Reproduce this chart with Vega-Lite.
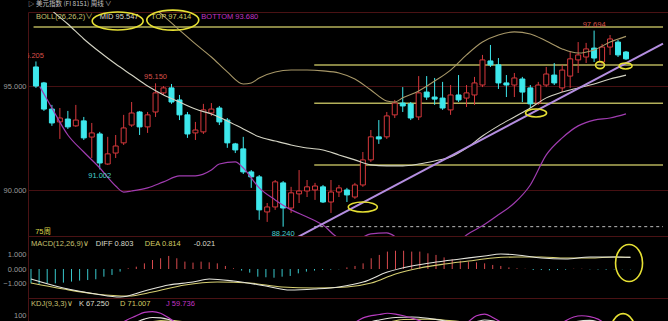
{
  "$schema": "https://vega.github.io/schema/vega-lite/v6.json",
  "background": "#000000",
  "padding": 0,
  "spacing": 0,
  "bounds": "flush",
  "title": {
    "text": "▷ 美元指数 (FI 8151)   周线 ∨",
    "anchor": "start",
    "frame": "group",
    "font": "Noto Sans CJK SC",
    "fontSize": 6.5,
    "fontWeight": "normal",
    "color": "#c4c4c4",
    "offset": 2,
    "dy": 3
  },
  "datasets": {
    "candles": [
      {"w":1,"o":95.94,"h":96.205,"l":94.93,"c":95.02},
      {"w":2,"o":95.17,"h":95.22,"l":93.82,"c":93.91},
      {"w":3,"o":93.91,"h":94.11,"l":93.1,"c":93.24},
      {"w":4,"o":93.29,"h":93.96,"l":92.47,"c":93.48},
      {"w":5,"o":93.43,"h":93.82,"l":92.95,"c":93.05},
      {"w":6,"o":93.1,"h":94.11,"l":93.05,"c":93.38},
      {"w":7,"o":93.34,"h":93.53,"l":92.42,"c":92.52},
      {"w":8,"o":92.56,"h":93.24,"l":91.55,"c":92.76},
      {"w":9,"o":92.71,"h":92.81,"l":91.002,"c":91.31},
      {"w":10,"o":91.26,"h":92.57,"l":91.22,"c":91.75},
      {"w":11,"o":91.79,"h":92.66,"l":91.55,"c":92.13},
      {"w":12,"o":92.28,"h":93.63,"l":92.18,"c":93.0},
      {"w":13,"o":93.14,"h":94.25,"l":93.05,"c":93.72},
      {"w":14,"o":93.77,"h":93.82,"l":92.66,"c":93.05},
      {"w":15,"o":93.05,"h":93.77,"l":92.76,"c":93.63},
      {"w":16,"o":93.77,"h":95.15,"l":93.53,"c":94.69},
      {"w":17,"o":94.69,"h":95.02,"l":94.59,"c":94.93},
      {"w":18,"o":94.93,"h":95.12,"l":94.16,"c":94.25},
      {"w":19,"o":94.35,"h":94.59,"l":93.38,"c":93.63},
      {"w":20,"o":93.63,"h":93.77,"l":92.52,"c":92.71},
      {"w":21,"o":92.76,"h":93.29,"l":92.42,"c":92.9},
      {"w":22,"o":92.81,"h":94.16,"l":92.71,"c":93.87},
      {"w":23,"o":93.72,"h":94.2,"l":93.58,"c":93.91},
      {"w":24,"o":93.96,"h":94.06,"l":93.14,"c":93.29},
      {"w":25,"o":93.38,"h":93.48,"l":92.04,"c":92.28},
      {"w":26,"o":92.23,"h":92.28,"l":91.79,"c":91.94},
      {"w":27,"o":91.99,"h":92.57,"l":90.78,"c":90.88},
      {"w":28,"o":90.88,"h":90.97,"l":90.11,"c":90.64},
      {"w":29,"o":90.64,"h":90.73,"l":88.57,"c":89.05},
      {"w":30,"o":88.95,"h":89.38,"l":88.47,"c":89.19},
      {"w":31,"o":89.19,"h":90.49,"l":89.05,"c":90.4},
      {"w":32,"o":90.35,"h":90.44,"l":88.24,"c":89.14},
      {"w":33,"o":89.14,"h":90.16,"l":88.9,"c":89.87},
      {"w":34,"o":89.82,"h":90.97,"l":89.38,"c":89.96},
      {"w":35,"o":89.96,"h":90.49,"l":89.67,"c":90.16},
      {"w":36,"o":90.01,"h":90.35,"l":89.53,"c":90.2},
      {"w":37,"o":90.16,"h":90.25,"l":89.38,"c":89.43},
      {"w":38,"o":89.43,"h":90.49,"l":88.9,"c":89.91},
      {"w":39,"o":89.91,"h":90.25,"l":89.67,"c":90.11},
      {"w":40,"o":90.01,"h":90.11,"l":89.43,"c":89.77},
      {"w":41,"o":89.67,"h":90.35,"l":89.58,"c":90.25},
      {"w":42,"o":90.25,"h":91.84,"l":90.16,"c":91.46},
      {"w":43,"o":91.46,"h":92.9,"l":91.36,"c":92.57},
      {"w":44,"o":92.57,"h":93.38,"l":92.23,"c":92.47},
      {"w":45,"o":92.57,"h":93.77,"l":92.47,"c":93.58},
      {"w":46,"o":93.63,"h":94.35,"l":93.48,"c":94.2},
      {"w":47,"o":94.2,"h":94.97,"l":93.77,"c":94.06},
      {"w":48,"o":94.16,"h":94.25,"l":93.38,"c":93.48},
      {"w":49,"o":93.53,"h":95.5,"l":93.38,"c":94.69},
      {"w":50,"o":94.73,"h":95.5,"l":94.35,"c":94.49},
      {"w":51,"o":94.49,"h":95.41,"l":94.11,"c":94.39},
      {"w":52,"o":94.44,"h":95.22,"l":93.87,"c":93.96},
      {"w":53,"o":93.87,"h":95.07,"l":93.63,"c":94.59},
      {"w":54,"o":94.59,"h":95.55,"l":94.25,"c":94.35},
      {"w":55,"o":94.44,"h":95.07,"l":94.01,"c":94.69},
      {"w":56,"o":94.59,"h":95.46,"l":94.11,"c":95.17},
      {"w":57,"o":95.07,"h":96.52,"l":94.97,"c":96.28},
      {"w":58,"o":96.23,"h":97.0,"l":95.94,"c":96.04},
      {"w":59,"o":96.04,"h":96.37,"l":94.88,"c":95.17},
      {"w":60,"o":95.17,"h":95.55,"l":94.49,"c":95.07},
      {"w":61,"o":95.07,"h":95.65,"l":94.49,"c":95.41},
      {"w":62,"o":95.36,"h":95.46,"l":94.25,"c":94.73},
      {"w":63,"o":94.93,"h":95.07,"l":93.96,"c":94.16},
      {"w":64,"o":94.2,"h":95.22,"l":94.11,"c":95.07},
      {"w":65,"o":95.07,"h":95.94,"l":94.97,"c":95.6},
      {"w":66,"o":95.55,"h":96.13,"l":95.07,"c":95.17},
      {"w":67,"o":94.93,"h":96.04,"l":94.73,"c":95.79},
      {"w":68,"o":95.5,"h":96.66,"l":94.93,"c":96.33},
      {"w":69,"o":96.28,"h":97.14,"l":95.65,"c":96.52},
      {"w":70,"o":96.42,"h":97.1,"l":96.13,"c":96.81},
      {"w":71,"o":96.85,"h":97.694,"l":96.18,"c":96.37},
      {"w":72,"o":96.18,"h":97.05,"l":96.08,"c":96.9},
      {"w":73,"o":96.9,"h":97.48,"l":96.52,"c":97.29},
      {"w":74,"o":97.14,"h":97.24,"l":96.42,"c":96.52},
      {"w":75,"o":96.66,"h":96.71,"l":96.28,"c":96.33}
    ],
    "mid": [
      {"w":1,"v":99.4},{"w":3,"v":98.66},{"w":5,"v":98.01},{"w":7,"v":97.29},{"w":9,"v":96.66},
      {"w":11,"v":96.08},{"w":13,"v":95.55},{"w":15,"v":95.02},{"w":17,"v":94.59},{"w":19,"v":94.25},
      {"w":21,"v":93.91},{"w":23,"v":93.67},{"w":25,"v":93.34},{"w":27,"v":92.95},{"w":29,"v":92.57},
      {"w":31,"v":92.37},{"w":33,"v":92.18},{"w":35,"v":92.03},{"w":37,"v":91.94},{"w":39,"v":91.7},
      {"w":41,"v":91.46},{"w":43,"v":91.22},{"w":45,"v":91.17},{"w":47,"v":91.17},{"w":49,"v":91.26},
      {"w":51,"v":91.41},{"w":53,"v":91.6},{"w":55,"v":92.03},{"w":57,"v":92.61},{"w":59,"v":93.1},
      {"w":61,"v":93.53},{"w":63,"v":93.96},{"w":65,"v":94.45},{"w":67,"v":94.73},{"w":69,"v":94.93},
      {"w":71,"v":95.12},{"w":73,"v":95.36},{"w":75,"v":95.547}
    ],
    "upper": [
      {"w":13,"v":99.65},{"w":15,"v":99.07},{"w":17,"v":98.4},{"w":19,"v":97.72},{"w":21,"v":97.05},
      {"w":23,"v":96.42},{"w":25,"v":95.7},{"w":27,"v":95.12},{"w":28,"v":95.17},{"w":29,"v":95.41},
      {"w":31,"v":95.7},{"w":33,"v":95.79},{"w":35,"v":95.79},{"w":37,"v":95.75},{"w":39,"v":95.65},
      {"w":41,"v":95.36},{"w":43,"v":94.83},{"w":45,"v":94.3},{"w":46,"v":94.25},{"w":47,"v":94.45},
      {"w":49,"v":94.78},{"w":51,"v":95.26},{"w":53,"v":95.79},{"w":55,"v":96.52},{"w":57,"v":97.14},
      {"w":59,"v":97.48},{"w":61,"v":97.63},{"w":63,"v":97.53},{"w":65,"v":97.19},{"w":67,"v":96.81},
      {"w":69,"v":96.61},{"w":71,"v":96.76},{"w":73,"v":97.14},{"w":75,"v":97.414}
    ],
    "lower": [
      {"w":1.5,"v":94.98},{"w":3,"v":93.96},{"w":5,"v":92.66},{"w":7,"v":91.84},{"w":9,"v":91.07},
      {"w":11,"v":90.2},{"w":12,"v":89.91},{"w":13,"v":89.96},{"w":15,"v":90.11},{"w":17,"v":90.4},
      {"w":19,"v":90.69},{"w":21,"v":90.69},{"w":23,"v":90.97},{"w":24,"v":91.26},{"w":26,"v":91.36},
      {"w":27,"v":91.07},{"w":29,"v":90.11},{"w":31,"v":89.53},{"w":33,"v":89.05},{"w":35,"v":88.71},
      {"w":37,"v":88.32},{"w":39,"v":87.7},{"w":41,"v":87.6},{"w":43,"v":87.89},{"w":45,"v":87.94},
      {"w":47,"v":87.5},{"w":50,"v":86.88},{"w":53,"v":87.12},{"w":55,"v":87.84},{"w":57,"v":88.28},
      {"w":59,"v":88.81},{"w":61,"v":89.38},{"w":63,"v":90.25},{"w":65,"v":91.7},{"w":67,"v":92.52},
      {"w":69,"v":93.1},{"w":71,"v":93.38},{"w":73,"v":93.48},{"w":75,"v":93.68}
    ],
    "trend": [{"w":33,"v":87.57},{"w":79.64,"v":97.07}],
    "fib": [
      {"s":0.7,"lv":97.868,"r":"0.618"},
      {"s":35.9,"lv":96.03,"r":"0.500"},
      {"s":35.9,"lv":94.192,"r":"0.382"},
      {"s":35.9,"lv":91.216,"r":"0.191"}
    ],
    "hdr": [
      {"w":1.0,"v":98.37,"t":"BOLL(26,26,2)∨","k":"a"},
      {"w":9.0,"v":98.37,"t":"MID 95.547","k":"b"},
      {"w":15.44,"v":98.37,"t":"TOP 97.414","k":"c"},
      {"w":21.74,"v":98.37,"t":"BOTTOM 93.680","k":"d"},
      {"w":0.9,"v":88.0,"t":"75周","k":"e"}
    ],
    "rings": [
      {"w":11.25,"v":98.156,"n":"a"},
      {"w":18.16,"v":98.2,"n":"b"},
      {"w":41.99,"v":89.19,"n":"c"},
      {"w":63.72,"v":93.72,"n":"d"},
      {"w":71.74,"v":96.03,"n":"e"},
      {"w":74.95,"v":95.99,"n":"f"}
    ],
    "hist": [
      {"w":1,"v":-0.99},{"w":2,"v":-1.03},{"w":3,"v":-0.99},{"w":4,"v":-0.99},{"w":5,"v":-0.94},
      {"w":6,"v":-0.87},{"w":7,"v":-0.8},{"w":8,"v":-0.76},{"w":9,"v":-0.71},{"w":10,"v":-0.53},
      {"w":11,"v":-0.41},{"w":12,"v":-0.18},{"w":13,"v":0.05},{"w":14,"v":0.16},{"w":15,"v":0.39},
      {"w":16,"v":0.62},{"w":17,"v":0.74},{"w":18,"v":0.9},{"w":19,"v":0.74},{"w":20,"v":0.51},
      {"w":21,"v":0.44},{"w":22,"v":0.51},{"w":23,"v":0.46},{"w":24,"v":0.39},{"w":25,"v":0.21},
      {"w":26,"v":0.05},{"w":27,"v":-0.11},{"w":28,"v":-0.25},{"w":29,"v":-0.53},{"w":30,"v":-0.57},
      {"w":31,"v":-0.6},{"w":32,"v":-0.53},{"w":33,"v":-0.48},{"w":34,"v":-0.3},{"w":35,"v":-0.18},
      {"w":36,"v":-0.11},{"w":37,"v":-0.07},{"w":38,"v":-0.05},{"w":39,"v":-0.02},{"w":40,"v":0.11},
      {"w":41,"v":0.21},{"w":42,"v":0.39},{"w":43,"v":0.74},{"w":44,"v":0.97},{"w":45,"v":1.2},
      {"w":46,"v":1.26},{"w":47,"v":1.26},{"w":48,"v":1.2},{"w":49,"v":1.2},{"w":50,"v":1.08},
      {"w":51,"v":0.97},{"w":52,"v":0.8},{"w":53,"v":0.67},{"w":54,"v":0.57},{"w":55,"v":0.51},
      {"w":56,"v":0.46},{"w":57,"v":0.39},{"w":58,"v":0.28},{"w":59,"v":0.21},{"w":60,"v":0.11},
      {"w":61,"v":0.05},{"w":62,"v":0.02},{"w":63,"v":-0.07},{"w":64,"v":-0.07},{"w":65,"v":-0.09},
      {"w":66,"v":-0.07},{"w":67,"v":-0.05},{"w":68,"v":0.02},{"w":69,"v":0.02},{"w":70,"v":-0.03},
      {"w":71,"v":-0.04},{"w":72,"v":-0.05},{"w":73,"v":-0.03},{"w":74,"v":-0.02},{"w":75,"v":-0.021}
    ],
    "diff": [
      {"w":1,"v":-0.69},{"w":5,"v":-1.31},{"w":9,"v":-1.72},{"w":12,"v":-1.93},{"w":15,"v":-1.52},
      {"w":18,"v":-1.1},{"w":21,"v":-0.9},{"w":23,"v":-0.69},{"w":26,"v":-0.83},{"w":30,"v":-1.17},
      {"w":33,"v":-1.45},{"w":36,"v":-1.38},{"w":39,"v":-1.24},{"w":42,"v":-0.9},{"w":45,"v":-0.21},
      {"w":48,"v":0.21},{"w":51,"v":0.48},{"w":54,"v":0.69},{"w":57,"v":0.9},{"w":59,"v":1.03},
      {"w":61,"v":0.97},{"w":64,"v":0.76},{"w":67,"v":0.69},{"w":70,"v":0.83},{"w":73,"v":0.83},
      {"w":75,"v":0.803}
    ],
    "dea": [
      {"w":1,"v":-0.97},{"w":5,"v":-1.38},{"w":9,"v":-1.72},{"w":13,"v":-1.86},{"w":16,"v":-1.59},
      {"w":20,"v":-1.1},{"w":24,"v":-0.9},{"w":28,"v":-0.97},{"w":32,"v":-1.24},{"w":36,"v":-1.31},
      {"w":40,"v":-1.24},{"w":43,"v":-0.97},{"w":46,"v":-0.34},{"w":49,"v":0.07},{"w":52,"v":0.34},
      {"w":55,"v":0.55},{"w":58,"v":0.76},{"w":61,"v":0.83},{"w":64,"v":0.83},{"w":67,"v":0.76},
      {"w":70,"v":0.76},{"w":73,"v":0.83},{"w":75,"v":0.814}
    ],
    "mhdr": [
      {"w":1.0,"v":1.72,"t":"MACD(12,26,9)∨","k":"a"},
      {"w":9.0,"v":1.72,"t":"DIFF 0.803","k":"b"},
      {"w":15.05,"v":1.72,"t":"DEA 0.814","k":"c"},
      {"w":21.1,"v":1.72,"t":"-0.021","k":"b"}
    ],
    "mring": [{"w":74.83,"v":0.41,"n":"g"}],
    "kk": [
      {"w":1,"v":60},{"w":8,"v":55},{"w":12,"v":70},{"w":14,"v":85},{"w":15,"v":92},{"w":16,"v":96},
      {"w":17,"v":95},{"w":18,"v":91},{"w":19,"v":85},{"w":21,"v":70},{"w":26,"v":50},{"w":34,"v":45},
      {"w":40,"v":60},{"w":42,"v":80},{"w":44,"v":90},{"w":46,"v":96},{"w":48,"v":97},{"w":50,"v":94},
      {"w":52,"v":88},{"w":54,"v":80},{"w":55,"v":82},{"w":56,"v":86},{"w":57,"v":90},{"w":58,"v":88},
      {"w":60,"v":75},{"w":64,"v":65},{"w":67,"v":78},{"w":68,"v":85},{"w":70,"v":89},{"w":72,"v":80},
      {"w":75,"v":67.25}
    ],
    "dd": [
      {"w":1,"v":62},{"w":10,"v":55},{"w":14,"v":75},{"w":16,"v":86},{"w":18,"v":90},{"w":20,"v":85},
      {"w":24,"v":65},{"w":32,"v":48},{"w":40,"v":55},{"w":43,"v":75},{"w":45,"v":84},{"w":47,"v":91},
      {"w":50,"v":92},{"w":53,"v":88},{"w":56,"v":83},{"w":58,"v":86},{"w":60,"v":80},{"w":64,"v":70},
      {"w":67,"v":74},{"w":70,"v":82},{"w":72,"v":79},{"w":75,"v":71.007}
    ],
    "jj": [
      {"w":1,"v":55},{"w":10,"v":40},{"w":12,"v":80},{"w":14,"v":100},{"w":15,"v":108},{"w":16,"v":110},
      {"w":17,"v":106},{"w":18,"v":95},{"w":20,"v":70},{"w":30,"v":40},{"w":38,"v":60},{"w":40,"v":72},
      {"w":42,"v":95},{"w":44,"v":103},{"w":45,"v":106},{"w":46,"v":104},{"w":47,"v":100},{"w":49,"v":88},
      {"w":51,"v":70},{"w":54,"v":72},{"w":55,"v":86},{"w":56,"v":100},{"w":57,"v":104},{"w":58,"v":96},
      {"w":59,"v":85},{"w":62,"v":60},{"w":66,"v":75},{"w":67,"v":88},{"w":68,"v":97},{"w":69,"v":100},
      {"w":70,"v":98},{"w":71,"v":92},{"w":72,"v":80},{"w":75,"v":59.736}
    ],
    "khdr": [
      {"w":1.0,"v":127.5,"t":"KDJ(9,3,3)∨","k":"a"},
      {"w":6.93,"v":127.5,"t":"K 67.250","k":"b"},
      {"w":11.99,"v":127.5,"t":"D 71.007","k":"c"},
      {"w":17.67,"v":127.5,"t":"J 59.736","k":"d"}
    ],
    "kring": [{"w":74.09,"v":55,"n":"h"}]
  },
  "vconcat": [
    {
      "width": 640,
      "height": 224,
      "encoding": {
        "x": {"field": "w", "type": "quantitative", "scale": {"domain": [0.63, 79.64]}, "axis": null}
      },
      "layer": [
        {
          "data": {"name": "fib"},
          "mark": {"type": "rule", "color": "#b4b05a", "strokeWidth": 1.5},
          "encoding": {
            "x": {"field": "s", "type": "quantitative", "scale": {"domain": [0.63, 79.64]}, "axis": null},
            "x2": {"datum": 79.64},
            "y": {"field": "lv", "type": "quantitative", "scale": {"domain": [87.79, 98.59]}, "title": null,
                  "axis": {"values": [90, 95], "format": ".3f", "grid": true}}
          }
        },
        {
          "data": {"name": "candles"},
          "transform": [{"filter": "datum.w == 32"}],
          "mark": {"type": "rule", "color": "#bdbdbd", "strokeWidth": 1, "strokeDash": [3, 3]},
          "encoding": {
            "x": {"datum": 35.9},
            "x2": {"datum": 79.64},
            "y": {"field": "l", "type": "quantitative", "scale": {"domain": [87.79, 98.59]}, "title": null}
          }
        },
        {
          "data": {"name": "candles"},
          "mark": {"type": "rule", "strokeWidth": 1, "clip": true},
          "encoding": {
            "y": {"field": "l", "type": "quantitative", "scale": {"domain": [87.79, 98.59]}, "title": null},
            "y2": {"field": "h"},
            "color": {"condition": {"test": "datum.c < datum.o", "value": "#3ee8ec"}, "value": "#d6383c"}
          }
        },
        {
          "data": {"name": "candles"},
          "mark": {"type": "bar", "width": 5, "strokeWidth": 1, "clip": true},
          "encoding": {
            "y": {"field": "o", "type": "quantitative", "scale": {"domain": [87.79, 98.59]}, "title": null},
            "y2": {"field": "c"},
            "fill": {"condition": {"test": "datum.c < datum.o", "value": "#3ee8ec"}, "value": "#000000"},
            "stroke": {"condition": {"test": "datum.c < datum.o", "value": "#3ee8ec"}, "value": "#d6383c"}
          }
        },
        {
          "data": {"name": "upper"},
          "mark": {"type": "line", "color": "#a89868", "strokeWidth": 1.1, "interpolate": "monotone", "clip": true},
          "encoding": {"y": {"field": "v", "type": "quantitative", "scale": {"domain": [87.79, 98.59]}, "title": null}}
        },
        {
          "data": {"name": "mid"},
          "mark": {"type": "line", "color": "#d4d4c4", "strokeWidth": 1.1, "interpolate": "monotone", "clip": true},
          "encoding": {"y": {"field": "v", "type": "quantitative", "scale": {"domain": [87.79, 98.59]}, "title": null}}
        },
        {
          "data": {"name": "lower"},
          "mark": {"type": "line", "color": "#a03cb0", "strokeWidth": 1.2, "interpolate": "monotone", "clip": true},
          "encoding": {"y": {"field": "v", "type": "quantitative", "scale": {"domain": [87.79, 98.59]}, "title": null}}
        },
        {
          "data": {"name": "trend"},
          "mark": {"type": "line", "color": "#b48ee0", "strokeWidth": 2, "clip": true},
          "encoding": {"y": {"field": "v", "type": "quantitative", "scale": {"domain": [87.79, 98.59]}, "title": null}}
        },
        {
          "data": {"name": "fib"},
          "mark": {"type": "text", "align": "left", "baseline": "bottom", "dy": -1, "color": "#c8c070", "fontSize": 7.5, "clip": true},
          "encoding": {
            "x": {"datum": 76.7},
            "y": {"field": "lv", "type": "quantitative", "scale": {"domain": [87.79, 98.59]}, "title": null},
            "text": {"field": "lv", "format": ".3f"}
          }
        },
        {
          "data": {"name": "fib"},
          "mark": {"type": "text", "align": "left", "baseline": "top", "dy": 2, "color": "#d4d0a8", "fontSize": 7.5, "clip": true},
          "encoding": {
            "x": {"datum": 77.7},
            "y": {"field": "lv", "type": "quantitative", "scale": {"domain": [87.79, 98.59]}, "title": null},
            "text": {"field": "r"}
          }
        },
        {
          "data": {"name": "candles"},
          "transform": [{"filter": "datum.w == 16 || datum.w == 71"}],
          "mark": {"type": "text", "align": "center", "baseline": "bottom", "dy": -2, "color": "#d8504a", "fontSize": 7.5},
          "encoding": {
            "y": {"field": "h", "type": "quantitative", "scale": {"domain": [87.79, 98.59]}, "title": null},
            "text": {"field": "h", "format": ".3f"}
          }
        },
        {
          "data": {"name": "candles"},
          "transform": [{"filter": "datum.w == 1"}],
          "mark": {"type": "text", "align": "right", "baseline": "bottom", "dx": 8, "dy": -1, "color": "#d8504a", "fontSize": 7.5, "clip": true},
          "encoding": {
            "y": {"field": "h", "type": "quantitative", "scale": {"domain": [87.79, 98.59]}, "title": null},
            "text": {"field": "h", "format": ".3f"}
          }
        },
        {
          "data": {"name": "candles"},
          "transform": [{"filter": "datum.w == 9 || datum.w == 32"}],
          "mark": {"type": "text", "align": "center", "baseline": "top", "dy": 3, "color": "#48d0d0", "fontSize": 7.5},
          "encoding": {
            "y": {"field": "l", "type": "quantitative", "scale": {"domain": [87.79, 98.59]}, "title": null},
            "text": {"field": "l", "format": ".3f"}
          }
        },
        {
          "data": {"name": "hdr"},
          "mark": {"type": "text", "align": "left", "baseline": "middle", "fontSize": 7.5, "font": "Liberation Sans, Noto Sans CJK SC"},
          "encoding": {
            "y": {"field": "v", "type": "quantitative", "scale": {"domain": [87.79, 98.59]}, "title": null},
            "text": {"field": "t"},
            "color": {"field": "k", "type": "nominal", "legend": null,
                      "scale": {"domain": ["a", "b", "c", "d", "e"], "range": ["#c8c070", "#dcdccc", "#d4cc64", "#c034c4", "#d8d048"]}}
          }
        },
        {
          "data": {"name": "rings"},
          "mark": {"type": "point", "filled": false, "size": 4, "stroke": "#e6e034", "strokeWidth": 1.6, "opacity": 1},
          "encoding": {
            "y": {"field": "v", "type": "quantitative", "scale": {"domain": [87.79, 98.59]}, "title": null},
            "shape": {"field": "n", "type": "nominal", "legend": null,
                      "scale": {"domain": ["a", "b", "c", "d", "e", "f", "g", "h"],
                                "range": [
                                  "M-25.5,0A25.5,9 0 1,0 25.5,0A25.5,9 0 1,0 -25.5,0Z",
                                  "M-26,0A26,10 0 1,0 26,0A26,10 0 1,0 -26,0Z",
                                  "M-14.5,0A14.5,5 0 1,0 14.5,0A14.5,5 0 1,0 -14.5,0Z",
                                  "M-10.5,0A10.5,4 0 1,0 10.5,0A10.5,4 0 1,0 -10.5,0Z",
                                  "M-4.5,0A4.5,3.5 0 1,0 4.5,0A4.5,3.5 0 1,0 -4.5,0Z",
                                  "M-6.5,0A6.5,3 0 1,0 6.5,0A6.5,3 0 1,0 -6.5,0Z",
                                  "M-13.5,0A13.5,18.5 0 1,0 13.5,0A13.5,18.5 0 1,0 -13.5,0Z",
                                  "M-13,0A13,21 0 1,0 13,0A13,21 0 1,0 -13,0Z"
                                ]}}
          }
        }
      ]
    },
    {
      "width": 640,
      "height": 62,
      "encoding": {
        "x": {"field": "w", "type": "quantitative", "scale": {"domain": [0.63, 79.64]}, "axis": null}
      },
      "layer": [
        {
          "data": {"name": "hist"},
          "mark": {"type": "rule", "strokeWidth": 1},
          "encoding": {
            "y": {"field": "v", "type": "quantitative", "scale": {"domain": [-2.0, 2.276]}, "title": null,
                  "axis": {"values": [-1, 0, 1], "format": ".3f", "grid": false, "labelOverlap": false}},
            "y2": {"datum": 0},
            "color": {"condition": {"test": "datum.v >= 0", "value": "#d84a4e"}, "value": "#38c8cc"}
          }
        },
        {
          "data": {"name": "dea"},
          "mark": {"type": "line", "color": "#d6cf72", "strokeWidth": 1.1, "interpolate": "monotone", "clip": true},
          "encoding": {"y": {"field": "v", "type": "quantitative", "scale": {"domain": [-2.0, 2.276]}, "title": null,
                             "axis": {"values": [-1, 0, 1], "format": ".3f", "grid": false, "labelOverlap": false}}}
        },
        {
          "data": {"name": "diff"},
          "mark": {"type": "line", "color": "#e4e4dc", "strokeWidth": 1.1, "interpolate": "monotone", "clip": true},
          "encoding": {"y": {"field": "v", "type": "quantitative", "scale": {"domain": [-2.0, 2.276]}, "title": null,
                             "axis": {"values": [-1, 0, 1], "format": ".3f", "grid": false, "labelOverlap": false}}}
        },
        {
          "data": {"name": "mhdr"},
          "mark": {"type": "text", "align": "left", "baseline": "middle", "fontSize": 7.5},
          "encoding": {
            "y": {"field": "v", "type": "quantitative", "scale": {"domain": [-2.0, 2.276]}, "title": null,
                  "axis": {"values": [-1, 0, 1], "format": ".3f", "grid": false, "labelOverlap": false}},
            "text": {"field": "t"},
            "color": {"field": "k", "type": "nominal", "legend": null,
                      "scale": {"domain": ["a", "b", "c", "d", "e"], "range": ["#c8c070", "#dcdccc", "#d4cc64", "#c034c4", "#d8d048"]}}
          }
        },
        {
          "data": {"name": "mring"},
          "mark": {"type": "point", "filled": false, "size": 4, "stroke": "#e6e034", "strokeWidth": 1.6, "opacity": 1},
          "encoding": {
            "y": {"field": "v", "type": "quantitative", "scale": {"domain": [-2.0, 2.276]}, "title": null,
                  "axis": {"values": [-1, 0, 1], "format": ".3f", "grid": false, "labelOverlap": false}},
            "shape": {"field": "n", "type": "nominal", "legend": null,
                      "scale": {"domain": ["a", "b", "c", "d", "e", "f", "g", "h"],
                                "range": [
                                  "M-25.5,0A25.5,9 0 1,0 25.5,0A25.5,9 0 1,0 -25.5,0Z",
                                  "M-26,0A26,10 0 1,0 26,0A26,10 0 1,0 -26,0Z",
                                  "M-14.5,0A14.5,5 0 1,0 14.5,0A14.5,5 0 1,0 -14.5,0Z",
                                  "M-10.5,0A10.5,4 0 1,0 10.5,0A10.5,4 0 1,0 -10.5,0Z",
                                  "M-4.5,0A4.5,3.5 0 1,0 4.5,0A4.5,3.5 0 1,0 -4.5,0Z",
                                  "M-6.5,0A6.5,3 0 1,0 6.5,0A6.5,3 0 1,0 -6.5,0Z",
                                  "M-13.5,0A13.5,18.5 0 1,0 13.5,0A13.5,18.5 0 1,0 -13.5,0Z",
                                  "M-13,0A13,21 0 1,0 13,0A13,21 0 1,0 -13,0Z"
                                ]}}
          }
        }
      ]
    },
    {
      "width": 640,
      "height": 23,
      "encoding": {
        "x": {"field": "w", "type": "quantitative", "scale": {"domain": [0.63, 79.64]}, "axis": null}
      },
      "layer": [
        {
          "data": {"name": "dd"},
          "mark": {"type": "line", "color": "#d6cf72", "strokeWidth": 1.1, "interpolate": "monotone", "clip": true},
          "encoding": {"y": {"field": "v", "type": "quantitative", "scale": {"domain": [87.5, 142.5]}, "title": null,
                             "axis": {"values": [100], "format": "d", "grid": false}}}
        },
        {
          "data": {"name": "kk"},
          "mark": {"type": "line", "color": "#e4e4dc", "strokeWidth": 1.1, "interpolate": "monotone", "clip": true},
          "encoding": {"y": {"field": "v", "type": "quantitative", "scale": {"domain": [87.5, 142.5]}, "title": null}}
        },
        {
          "data": {"name": "jj"},
          "mark": {"type": "line", "color": "#b83cc0", "strokeWidth": 1.2, "interpolate": "monotone", "clip": true},
          "encoding": {"y": {"field": "v", "type": "quantitative", "scale": {"domain": [87.5, 142.5]}, "title": null}}
        },
        {
          "data": {"name": "khdr"},
          "mark": {"type": "text", "align": "left", "baseline": "middle", "fontSize": 7.5},
          "encoding": {
            "y": {"field": "v", "type": "quantitative", "scale": {"domain": [87.5, 142.5]}, "title": null},
            "text": {"field": "t"},
            "color": {"field": "k", "type": "nominal", "legend": null,
                      "scale": {"domain": ["a", "b", "c", "d", "e"], "range": ["#c8c070", "#dcdccc", "#d4cc64", "#c034c4", "#d8d048"]}}
          }
        },
        {
          "data": {"name": "kring"},
          "mark": {"type": "point", "filled": false, "size": 4, "stroke": "#e6e034", "strokeWidth": 1.6, "opacity": 1, "clip": true},
          "encoding": {
            "y": {"field": "v", "type": "quantitative", "scale": {"domain": [87.5, 142.5]}, "title": null},
            "shape": {"field": "n", "type": "nominal", "legend": null,
                      "scale": {"domain": ["a", "b", "c", "d", "e", "f", "g", "h"],
                                "range": [
                                  "M-25.5,0A25.5,9 0 1,0 25.5,0A25.5,9 0 1,0 -25.5,0Z",
                                  "M-26,0A26,10 0 1,0 26,0A26,10 0 1,0 -26,0Z",
                                  "M-14.5,0A14.5,5 0 1,0 14.5,0A14.5,5 0 1,0 -14.5,0Z",
                                  "M-10.5,0A10.5,4 0 1,0 10.5,0A10.5,4 0 1,0 -10.5,0Z",
                                  "M-4.5,0A4.5,3.5 0 1,0 4.5,0A4.5,3.5 0 1,0 -4.5,0Z",
                                  "M-6.5,0A6.5,3 0 1,0 6.5,0A6.5,3 0 1,0 -6.5,0Z",
                                  "M-13.5,0A13.5,18.5 0 1,0 13.5,0A13.5,18.5 0 1,0 -13.5,0Z",
                                  "M-13,0A13,21 0 1,0 13,0A13,21 0 1,0 -13,0Z"
                                ]}}
          }
        }
      ]
    }
  ],
  "config": {
    "view": {"stroke": "#4a1214", "strokeWidth": 1},
    "axis": {
      "labelColor": "#9c9c9c",
      "labelFont": "Liberation Sans",
      "labelFontSize": 7.5,
      "ticks": false,
      "domain": false,
      "labelPadding": 2,
      "labelOverlap": false,
      "labelFlush": false,
      "minExtent": 27,
      "maxExtent": 27,
      "gridColor": "#461012",
      "gridWidth": 1
    },
    "text": {"font": "Liberation Sans", "fontSize": 7.5},
    "concat": {"spacing": 0}
  }
}
